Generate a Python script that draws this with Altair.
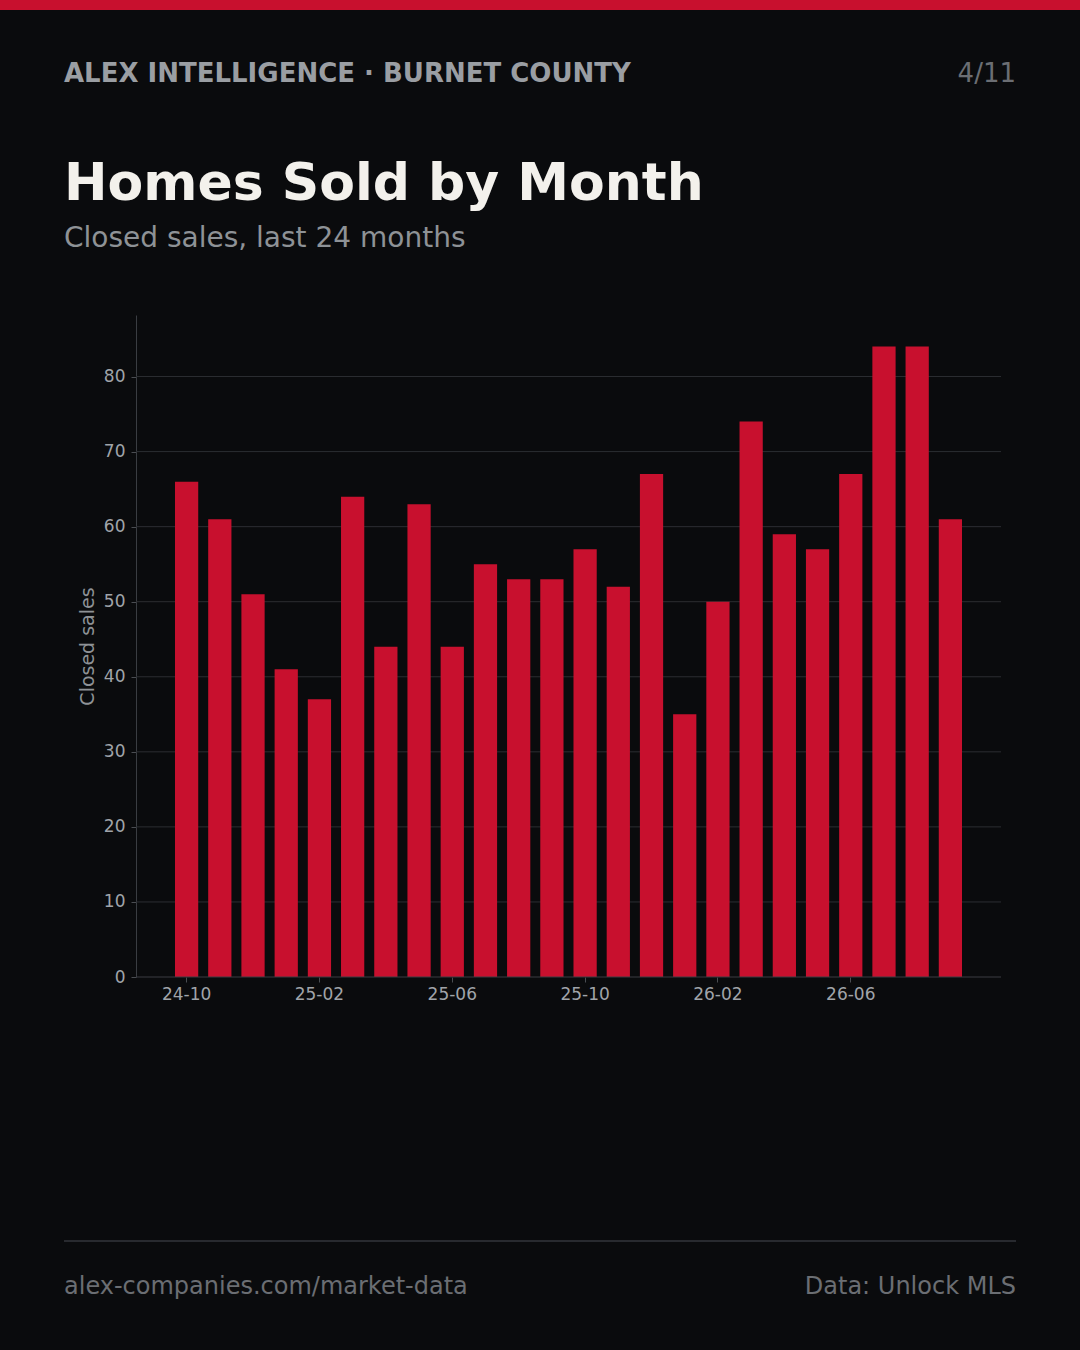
import altair as alt
import pandas as pd

months = ["24-10", "24-11", "24-12", "25-01", "25-02", "25-03", "25-04", "25-05",
          "25-06", "25-07", "25-08", "25-09", "25-10", "25-11", "25-12", "26-01",
          "26-02", "26-03", "26-04", "26-05", "26-06", "26-07", "26-08", "26-09"]
sales = [66, 61, 51, 41, 37, 64, 44, 63, 44, 55, 53, 53,
         57, 52, 67, 35, 50, 74, 59, 57, 67, 84, 84, 61]
tick_labels = ["24-10", "25-02", "25-06", "25-10", "26-02", "26-06"]
y_ticks = [0, 10, 20, 30, 40, 50, 60, 70, 80]

header_left = ["ALEX INTELLIGENCE · BURNET COUNTY"]
header_right = ["4/11"]
title_text = ["Homes Sold by Month"]
subtitle_text = ["Closed sales, last 24 months"]
footer_left = ["alex-companies.com/market-data"]
footer_right = ["Data: Unlock MLS"]

BG = "#0a0b0d"
RED = "#c8102e"
FONT = "DejaVu Sans"

PL, PT, W, H = 136, 315, 865, 662
XPAD = 34

df = pd.DataFrame({"month": months, "sales": sales})
yscale = alt.Scale(domain=[0, 88.2], nice=False)

grid = alt.Chart(pd.DataFrame({"v": y_ticks[1:]})).mark_rule(
    color="#2c2e32", strokeWidth=1).encode(
    y=alt.Y("v:Q", scale=yscale), x=alt.value(0), x2=alt.value(W))

bars = alt.Chart(df).mark_bar(color=RED).encode(
    x=alt.X("month:N", sort=months, title=None,
            scale=alt.Scale(paddingInner=0.3, paddingOuter=0.15, range=[XPAD, W - XPAD]),
            axis=alt.Axis(values=tick_labels, labelAngle=0, labelFontSize=17,
                          labelColor="#a0a4a9", labelFont=FONT, tickColor="#4a4d52",
                          tickSize=5, domain=False, labelPadding=4, grid=False)),
    y=alt.Y("sales:Q", title="Closed sales", scale=yscale,
            axis=alt.Axis(values=y_ticks, labelFontSize=17, grid=False,
                          labelColor="#a0a4a9", labelFont=FONT, tickColor="#4a4d52",
                          tickSize=5, domainColor="#3a3d42",
                          titleColor="#8e9296", titleFontSize=19, titleFont=FONT,
                          titleFontWeight="normal", titlePadding=6, labelPadding=6)),
)


def txt(values, x, y, size, color, weight="normal", align="left"):
    d = pd.DataFrame({"t": values})
    return alt.Chart(d).mark_text(
        align=align, baseline="alphabetic", font=FONT, fontSize=size,
        fontWeight=weight, color=color
    ).encode(text="t:N", x=alt.value(x - PL), y=alt.value(y - PT))


def hrule(x1, x2, y, color, width):
    return alt.Chart(pd.DataFrame({"a": [0]})).mark_rule(color=color, strokeWidth=width).encode(
        x=alt.value(x1), x2=alt.value(x2), y=alt.value(y))


chart = alt.layer(
    grid,
    bars,
    hrule(0, W, H, "#3a3d42", 1),
    hrule(0 - PL, 1080 - PL, 5 - PT, RED, 10),
    hrule(64 - PL, 1016 - PL, 1241 - PT, "#33363b", 1.5),
    txt(header_left, 64, 82, 26, "#9a9ea3", "bold"),
    txt(header_right, 1016, 82, 26, "#6b6e73", "normal", "right"),
    txt(title_text, 64, 200, 52, "#f3f1ec", "bold"),
    txt(subtitle_text, 64, 247, 28, "#8e9296"),
    txt(footer_left, 64, 1294, 24, "#6b6e73"),
    txt(footer_right, 1016, 1294, 24, "#6b6e73", "normal", "right"),
).properties(
    width=W, height=H,
    background=BG,
    padding={"left": PL, "top": PT, "right": 1080 - PL - W, "bottom": 1350 - PT - H},
    autosize=alt.AutoSizeParams(type="none"),
).configure_view(stroke=None)

chart.save("out.html", embed_options={"renderer": "svg", "actions": False})
